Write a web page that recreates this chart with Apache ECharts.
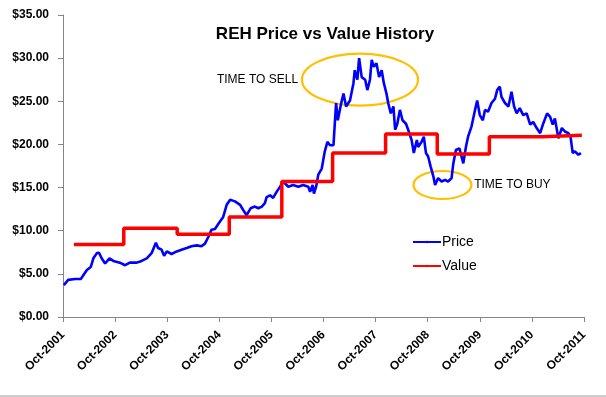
<!DOCTYPE html>
<html>
<head>
<meta charset="utf-8">
<script src="https://cdn.jsdelivr.net/npm/echarts@6/dist/echarts.min.js"></script>
<style>
  html, body { margin: 0; padding: 0; background: #fff; }
  #chart { width: 606px; height: 397px; }
</style>
</head>
<body>
<div id="chart"></div>
<script>
// months counted from Oct-2001
const priceMonths = [0.2, 1.2, 2.8, 4.1, 4.5, 5.5, 6.4, 7.0, 7.8, 8.3, 8.9, 9.7, 10.7, 11.6, 13.1, 14.3, 15.4, 17.0, 18.1, 19.3,
  20.4, 21.4, 21.9, 22.7, 23.3, 23.9, 25.0, 26.2, 27.3, 28.5, 29.6, 30.8, 31.9, 32.7, 33.5, 34.2, 35.0, 35.8,
  36.9, 37.7, 38.5, 39.6, 40.8, 41.5, 42.3, 43.2, 44.2, 45.0, 45.8, 46.5, 46.9, 47.7, 48.4, 49.2, 50.0, 50.7,
  51.9, 53.0, 54.2, 55.3, 56.5, 56.9, 57.5, 57.8, 58.3, 58.8, 59.6, 60.3, 60.9, 61.5, 62.3, 62.6, 62.9, 63.3,
  64.0, 64.6, 65.2, 66.1, 66.9, 67.2, 67.8, 68.2, 68.8, 69.6, 70.1, 70.7, 71.1, 71.6, 72.2, 72.8, 73.4, 73.9,
  74.5, 74.9, 75.5, 76.1, 76.5, 77.0, 77.6, 78.2, 79.0, 79.5, 80.3, 80.8, 81.5, 81.8, 82.6, 83.1, 83.6, 84.1,
  84.7, 85.3, 85.7, 86.4, 87.2, 88.0, 88.7, 89.5, 89.9, 90.5, 91.3, 92.2, 92.8, 93.3, 94.1, 94.9, 95.4, 96.0,
  96.7, 97.2, 97.9, 98.7, 99.5, 100.0, 100.6, 101.0, 101.8, 102.6, 103.3, 103.9, 104.5, 105.2, 106.0, 106.8,
  107.6, 108.3, 109.1, 109.9, 110.6, 111.5, 112.2, 112.8, 113.3, 114.1, 114.9, 115.6, 116.4, 116.9, 117.4,
  117.9, 118.7, 119.3];
const priceValues = [3.7, 4.3, 4.4, 4.4, 4.5, 5.45, 5.8, 6.8, 7.4, 7.45, 6.8, 6.2, 6.8, 6.5, 6.3, 6.0, 6.3, 6.3, 6.5, 6.8,
  7.4, 8.6, 8.0, 7.8, 7.1, 7.6, 7.3, 7.6, 7.8, 8.0, 8.2, 8.3, 8.2, 8.5, 9.3, 10.1, 10.2, 10.8,
  11.6, 13.0, 13.6, 13.4, 13.0, 12.4, 11.8, 12.6, 12.8, 12.6, 12.8, 13.2, 13.9, 14.1, 13.8, 14.5, 15.1, 15.7,
  15.1, 15.3, 15.1, 15.3, 15.1, 14.5, 15.3, 14.3, 15.1, 16.5, 17.2, 19.2, 20.3, 19.9, 19.9, 22.4, 24.8, 22.8,
  24.6, 25.9, 24.4, 25.1, 27.1, 28.6, 27.5, 30.0, 27.8, 27.5, 26.3, 27.5, 29.8, 29.0, 29.4, 27.8, 28.6, 27.1,
  25.9, 24.8, 23.6, 24.4, 21.7, 22.4, 24.0, 22.8, 22.4, 21.7, 20.5, 19.0, 20.5, 19.7, 20.3, 20.9, 19.0, 18.6,
  17.4, 16.3, 15.3, 16.1, 15.7, 15.9, 15.7, 16.1, 17.8, 19.35, 19.55, 17.8, 19.7, 20.9, 22.1, 24.0, 25.1, 23.4,
  22.8, 24.0, 23.8, 24.8, 25.3, 26.3, 26.7, 25.5, 24.8, 24.4, 26.1, 24.4, 23.6, 24.2, 23.4, 23.6,
  22.3, 22.6, 21.9, 21.3, 22.4, 23.6, 23.2, 22.3, 23.0, 20.7, 21.9, 21.5, 21.3, 20.9, 19.0,
  19.2, 18.8, 19.0];

const valueMonths = [2.5, 14.0, 26.3, 38.3, 50.4, 62.1, 74.3, 86.2, 98.2, 110.4, 119.5];
const valueValues = [8.4, 10.3, 9.6, 11.6, 15.7, 19.0, 21.2, 18.9, 20.9, 21.05, 21.05];

const xTicks = { min: 0, max: 120, step: 12, startYear: 2001 };

const chart = echarts.init(document.getElementById('chart'));
const axisGray = '#868686';
const gold = '#FFC000';

chart.setOption({
  animation: false,
  title: {
    text: 'REH Price vs Value History',
    left: 320, top: 21, textAlign: 'center',
    textStyle: { fontFamily: 'Liberation Sans', fontSize: 17, fontWeight: 'bold', color: '#000' }
  },
  legend: {
    orient: 'vertical', left: 407, top: 230, itemGap: 10,
    itemWidth: 28, itemHeight: 3,
    textStyle: { fontFamily: 'Liberation Sans', fontSize: 14, color: '#000', padding: [0, 0, 0, -4] },
    data: ['Price', 'Value']
  },
  grid: { left: 63, right: 22, top: 15, bottom: 80 },
  xAxis: {
    type: 'value', min: xTicks.min, max: xTicks.max, interval: xTicks.step,
    axisLine: { lineStyle: { color: axisGray, width: 1 } },
    axisTick: { show: true, length: 5, lineStyle: { color: axisGray } },
    splitLine: { show: false },
    axisLabel: {
      rotate: 45, margin: 16, color: '#000', fontFamily: 'Liberation Sans', fontSize: 12, fontWeight: 'bold',
      formatter: v => 'Oct-' + (xTicks.startYear + v / 12)
    }
  },
  yAxis: {
    type: 'value', min: 0, max: 35, interval: 5,
    axisLine: { show: true, lineStyle: { color: axisGray, width: 1 } },
    axisTick: { show: true, length: 5, lineStyle: { color: axisGray } },
    splitLine: { show: false },
    axisLabel: {
      margin: 14, color: '#000', fontFamily: 'Liberation Sans', fontSize: 12, fontWeight: 'bold',
      formatter: v => '$' + v.toFixed(2)
    }
  },
  series: [
    {
      name: 'Price', type: 'line', symbol: 'none',
      lineStyle: { color: '#0000FF', width: 2.6 }, itemStyle: { color: '#0000FF' },
      data: priceMonths.map((m, i) => [m, priceValues[i]])
    },
    {
      name: 'Value', type: 'line', symbol: 'none', step: 'end',
      lineStyle: { color: '#FF0000', width: 3.5 }, itemStyle: { color: '#FF0000' },
      data: valueMonths.map((m, i) => [m, valueValues[i]])
    }
  ]
});

// annotations placed in data coordinates
const toPx = p => chart.convertToPixel({ gridIndex: 0 }, p);
const sellC = toPx([68.4, 27.5]);
const buyC = toPx([87.4, 15.3]);
const sellT = toPx([44.8, 27.5]);
const buyT = toPx([103.5, 15.3]);
const labelFont = { fontFamily: 'Liberation Sans', fontSize: 12, fill: '#000' };

chart.setOption({
  graphic: [
    { type: 'ellipse', shape: { cx: sellC[0], cy: sellC[1], rx: 58, ry: 26 }, style: { fill: null, stroke: gold, lineWidth: 2.2 }, z: 1 },
    { type: 'ellipse', shape: { cx: buyC[0], cy: buyC[1], rx: 29, ry: 14 }, style: { fill: null, stroke: gold, lineWidth: 2.2 }, z: 1 },
    { type: 'text', x: sellT[0], y: sellT[1], style: Object.assign({ text: 'TIME TO SELL', align: 'center', verticalAlign: 'middle' }, labelFont) },
    { type: 'text', x: buyT[0], y: buyT[1], style: Object.assign({ text: 'TIME TO BUY', align: 'center', verticalAlign: 'middle' }, labelFont) },
    { type: 'line', shape: { x1: 0, y1: 396, x2: 606, y2: 396 }, style: { stroke: '#9a9a9a', lineWidth: 1 } }
  ]
});
</script>
</body>
</html>
